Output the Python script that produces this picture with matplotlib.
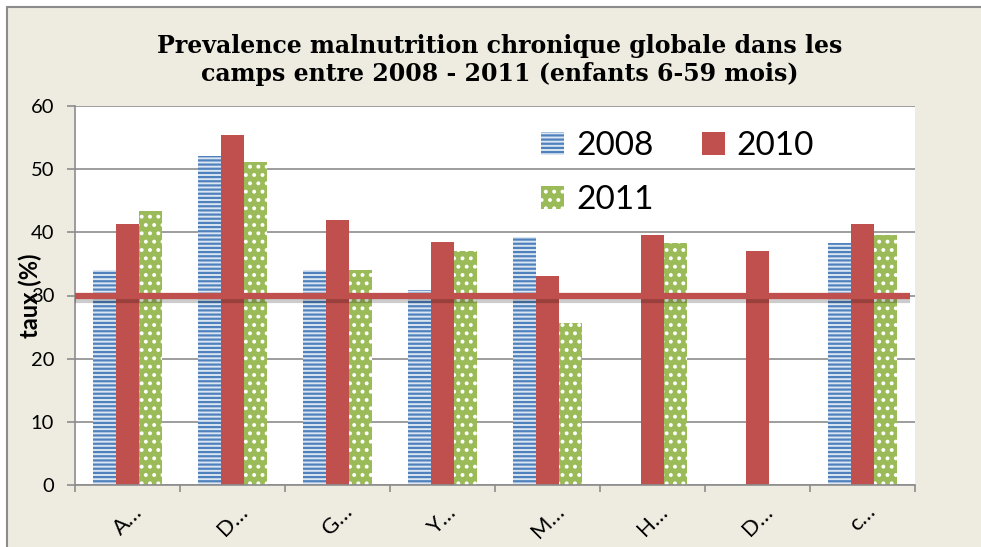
import matplotlib
matplotlib.use("Agg")
import matplotlib.pyplot as plt
import matplotlib.patheffects as pe
from matplotlib.patches import Rectangle
import numpy as np

plt.rcParams['hatch.linewidth'] = 1.6

categories = ["A…", "D…", "G…", "Y…", "M…", "H…", "D…", "c…"]
v2008 = [34.0, 52.1, 34.0, 30.9, 39.3, 0, 0, 38.3]
v2010 = [41.3, 55.4, 42.0, 38.4, 33.1, 39.5, 37.0, 41.3]
v2011 = [43.4, 51.1, 34.0, 37.0, 25.6, 38.3, 0, 39.5]
seuil = 30
yticks = [0, 10, 20, 30, 40, 50, 60]
title = "Prevalence malnutrition chronique globale dans les\ncamps entre 2008 - 2011 (enfants 6-59 mois)"
ylabel = "taux (%)"

W, H = 981, 547
fig = plt.figure(figsize=(W/100, H/100), dpi=100)
fig.patch.set_facecolor("white")
bg = Rectangle((7/W, -0.05), 1.2, 1 - 7/H + 0.05, transform=fig.transFigure,
               facecolor="#EEECE1", edgecolor="#8C8C8C", linewidth=1.5, zorder=-10)
fig.patches.append(bg)

ax = fig.add_axes([75/W, 1 - 485/H, (915-75)/W, (485-106)/H])
ax.set_facecolor("white")

x = np.arange(len(categories))
w = 0.222
b08 = ax.bar(x - w, v2008, w, facecolor="#DCE6F2", edgecolor="#4F81BD", linewidth=0,
             hatch="----", label="2008", zorder=2)
b10 = ax.bar(x, v2010, w, color="#C0504D", linewidth=0, label="2010", zorder=2)
b11 = ax.bar(x + w, v2011, w, facecolor="#9BBB59", edgecolor="white", linewidth=0,
             hatch="..", label="2011", zorder=2)

ax.axhline(seuil, xmin=0, xmax=(910-75)/(915-75), color="#C0504D", linewidth=4.5, zorder=5,
           solid_capstyle="butt",
           path_effects=[pe.SimpleLineShadow(offset=(0, -3), shadow_color="black", alpha=0.2),
                         pe.Normal()])

ax.set_xlim(-0.5, len(categories) - 0.5)
ax.set_ylim(0, 60)
ax.set_yticks(yticks)
ax.yaxis.grid(True, color="#8C8C8C", linewidth=1.2, zorder=0)
ax.set_axisbelow(True)
for s in ["top", "right"]:
    ax.spines[s].set_visible(False)
for s in ["left", "bottom"]:
    ax.spines[s].set_color("#8C8C8C")
    ax.spines[s].set_linewidth(1.2)

ax.set_xticks(x)
ax.set_xticklabels(categories, rotation=45, ha="center", va="top",
                   fontsize=16, family="Lato")
ax.set_xticks(np.arange(len(categories) + 1) - 0.5, minor=True)
ax.tick_params(axis="x", which="major", length=0, pad=12)
ax.tick_params(axis="x", which="minor", length=5, color="#8C8C8C", width=1.2)
ax.tick_params(axis="y", length=6, color="#8C8C8C", width=1.2, pad=9, labelsize=14.5)
for lab in ax.get_yticklabels():
    lab.set_family("Lato")

fig.text(500/W, 1 - 60/H, title, ha="center", va="center", fontsize=17,
         fontweight="bold", family="DejaVu Serif", linespacing=1.2)
fig.text(30/W, 1 - 296/H, ylabel, rotation=90, ha="center", va="center",
         fontsize=17, fontweight="bold", family="Lato")

leg = ax.legend([b08, b11, b10], ["2008", "2011", "2010"],
                loc="upper left", bbox_to_anchor=(541/W, 1 - 131/H),
                bbox_transform=fig.transFigure, ncol=2, frameon=False,
                prop={"family": "Lato", "size": 24}, handlelength=0.7, handleheight=0.7,
                handletextpad=0.35, columnspacing=1.45, labelspacing=0.72,
                borderaxespad=0, borderpad=0)
leg.set_zorder(10)

fig.savefig("out.png", dpi=100, facecolor=fig.get_facecolor())
